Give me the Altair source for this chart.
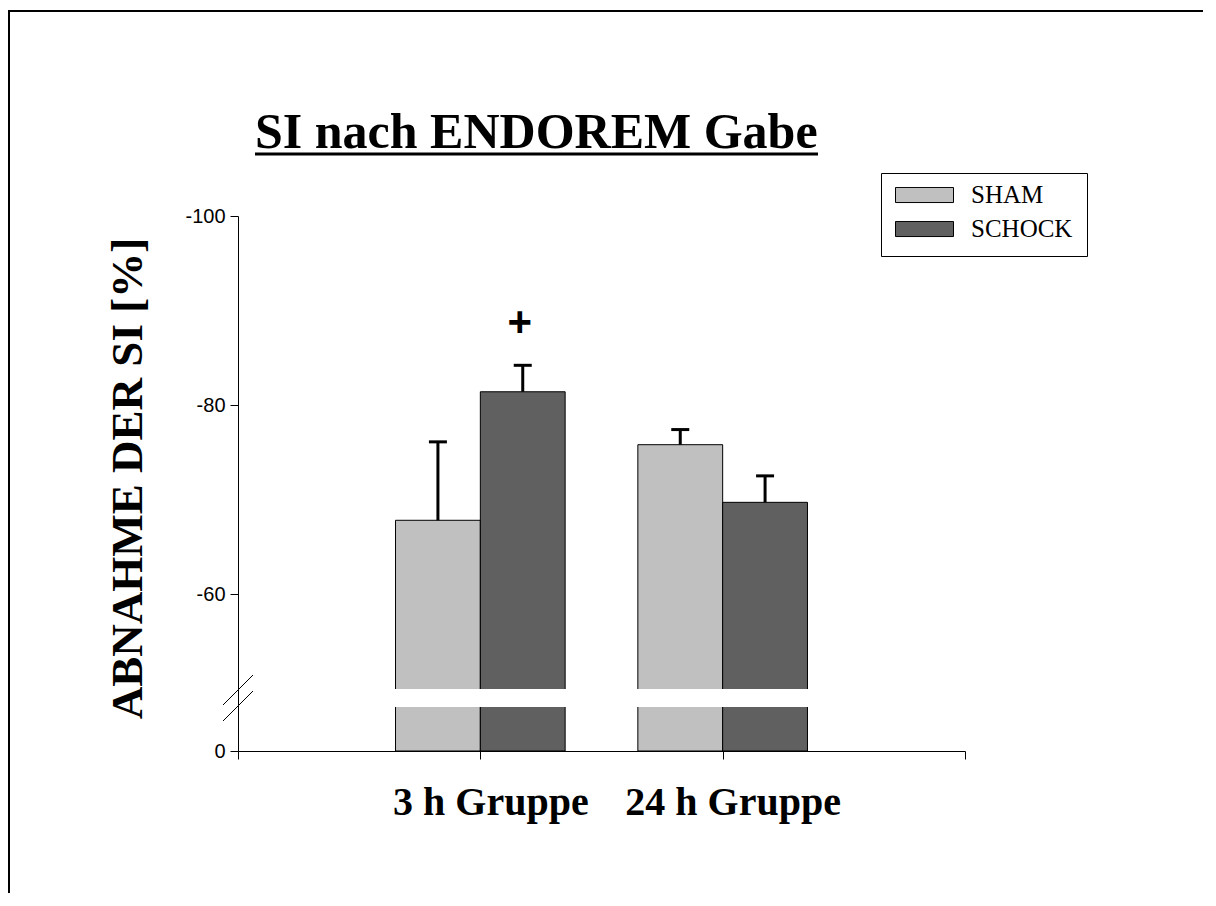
import json
import altair as alt
import pandas as pd

# ---------------- data ----------------
TITLE = "SI nach ENDOREM Gabe"
Y_TITLE = "ABNAHME DER SI [%]"
groups = ["3 h Gruppe", "24 h Gruppe"]
series = ["SHAM", "SCHOCK"]
sham_mean = [-67.8, -75.8]
sham_err = [-76.1, -77.4]
schock_mean = [-81.4, -69.7]
schock_err = [-84.2, -72.5]
schock_sig = ["+", ""]
y_ticks = [-100, -80, -60, 0]
colors = ["#c0c0c0", "#606060"]

rows = []
for gi, g in enumerate(groups):
    rows.append(dict(group=g, gi=gi + 1, series=series[0], mean=sham_mean[gi],
                     err=sham_err[gi], sig=""))
    rows.append(dict(group=g, gi=gi + 1, series=series[1], mean=schock_mean[gi],
                     err=schock_err[gi], sig=schock_sig[gi]))
df = pd.DataFrame(rows)
one = pd.DataFrame({"t": [TITLE]})

# ---------------- layout ----------------
W, H = 727, 535
BAR = 0.35
HALF = BAR / 2

xscale = alt.Scale(domain=[0, 3], nice=False, zero=False)
# broken axis: piecewise-linear scale (lower segment compressed)
yscale = alt.Scale(domain=[-100, -50, 0], range=[0, 472.5, 535], nice=False, zero=False)

label_expr = ("datum.value >= 1 && datum.value <= 2 ? "
              + json.dumps(groups) + "[datum.value - 1] : ''")

x_axis = alt.Axis(values=[0, 1, 2, 3], labelExpr=label_expr, title=None,
                  labelFont="Liberation Serif", labelFontSize=40, labelFontWeight="bold",
                  labelColor="black", labelBaseline="alphabetic", labelPadding=55,
                  labelOffset=10, labelLimit=0, tickSize=8, tickColor="black",
                  domainColor="black", grid=False, labelOverlap=False, labelFlush=False)
y_axis = alt.Axis(values=y_ticks, labelExpr="'' + datum.value", title=Y_TITLE,
                  titleFont="Liberation Serif", titleFontSize=45, titleFontWeight="bold",
                  titleAngle=270, titleX=-97, titleY=262, titleAlign="center",
                  titleBaseline="alphabetic", titleColor="black",
                  labelFont="Liberation Sans", labelFontSize=20, labelColor="black",
                  labelPadding=5, tickSize=8, tickColor="black", domainColor="black",
                  grid=False)

base = (alt.Chart(df)
        .transform_calculate(center=f"datum.gi + (datum.series == '{series[0]}' ? -{HALF} : {HALF})")
        .transform_calculate(left=f"datum.center - {HALF}")
        .transform_calculate(right=f"datum.center + {HALF}"))

bars = base.mark_rect(stroke="black", strokeWidth=1).encode(
    x=alt.X("left:Q", scale=xscale, axis=x_axis),
    x2="right:Q",
    y=alt.Y("mean:Q", scale=yscale, axis=y_axis),
    y2=alt.datum(0),
    color=alt.Color("series:N",
                    scale=alt.Scale(domain=series, range=colors),
                    legend=alt.Legend(orient="none", legendX=643, legendY=-43, title=None,
                                      symbolType="M-1,-0.26H1V0.26H-1Z", symbolSize=3364,
                                      symbolStrokeColor="black", symbolStrokeWidth=1,
                                      clipHeight=16, rowPadding=9, labelOffset=17,
                                      labelFont="Liberation Serif", labelFontSize=25,
                                      labelColor="black", strokeColor="black",
                                      fillColor="white", padding=14, symbolOpacity=1)),
)

stems = base.mark_rule(color="black", strokeWidth=3).encode(
    x=alt.X("center:Q", scale=xscale, axis=x_axis),
    y=alt.Y("mean:Q", scale=yscale, axis=y_axis),
    y2="err:Q",
)
caps = base.mark_tick(color="black", orient="horizontal", size=18, thickness=3, opacity=1).encode(
    x=alt.X("center:Q", scale=xscale, axis=x_axis),
    y=alt.Y("err:Q", scale=yscale, axis=y_axis),
)
plus = base.mark_text(color="black", font="Liberation Sans", fontWeight="bold",
                      fontSize=42, baseline="middle", dy=-42, dx=-3).encode(
    x=alt.X("center:Q", scale=xscale, axis=x_axis),
    y=alt.Y("err:Q", scale=yscale, axis=y_axis),
    text="sig:N",
)

deco = alt.Chart(one)
gap = deco.mark_rect(color="white", opacity=1).encode(
    x=alt.value(140), x2=alt.value(590), y=alt.value(473), y2=alt.value(491))
slash1 = deco.mark_rule(color="black", strokeWidth=1).encode(
    x=alt.value(-15), x2=alt.value(15), y=alt.value(489), y2=alt.value(459))
slash2 = deco.mark_rule(color="black", strokeWidth=1).encode(
    x=alt.value(-15), x2=alt.value(15), y=alt.value(505), y2=alt.value(475))
frame = deco.mark_rect(filled=False, stroke="black", strokeWidth=2).encode(
    x=alt.value(-229), x2=alt.value(1000), y=alt.value(-205), y2=alt.value(720))
title = deco.mark_text(font="Liberation Serif", fontSize=50, fontWeight="bold",
                       align="left", baseline="alphabetic", color="black").encode(
    x=alt.value(17), y=alt.value(-68), text="t:N")
underline = deco.mark_rule(color="black", strokeWidth=3).encode(
    x=alt.value(17), x2=alt.value(580), y=alt.value(-62))

chart = (alt.layer(frame, bars, gap, stems, caps, plus, slash1, slash2, title, underline)
         .properties(width=W, height=H,
                     autosize=alt.AutoSizeParams(type="none"),
                     padding={"left": 230, "top": 208, "right": 238, "bottom": 142},
                     background="white")
         .configure_view(stroke=None))

chart.save("out.html", embed_options={"renderer": "svg", "actions": False})
